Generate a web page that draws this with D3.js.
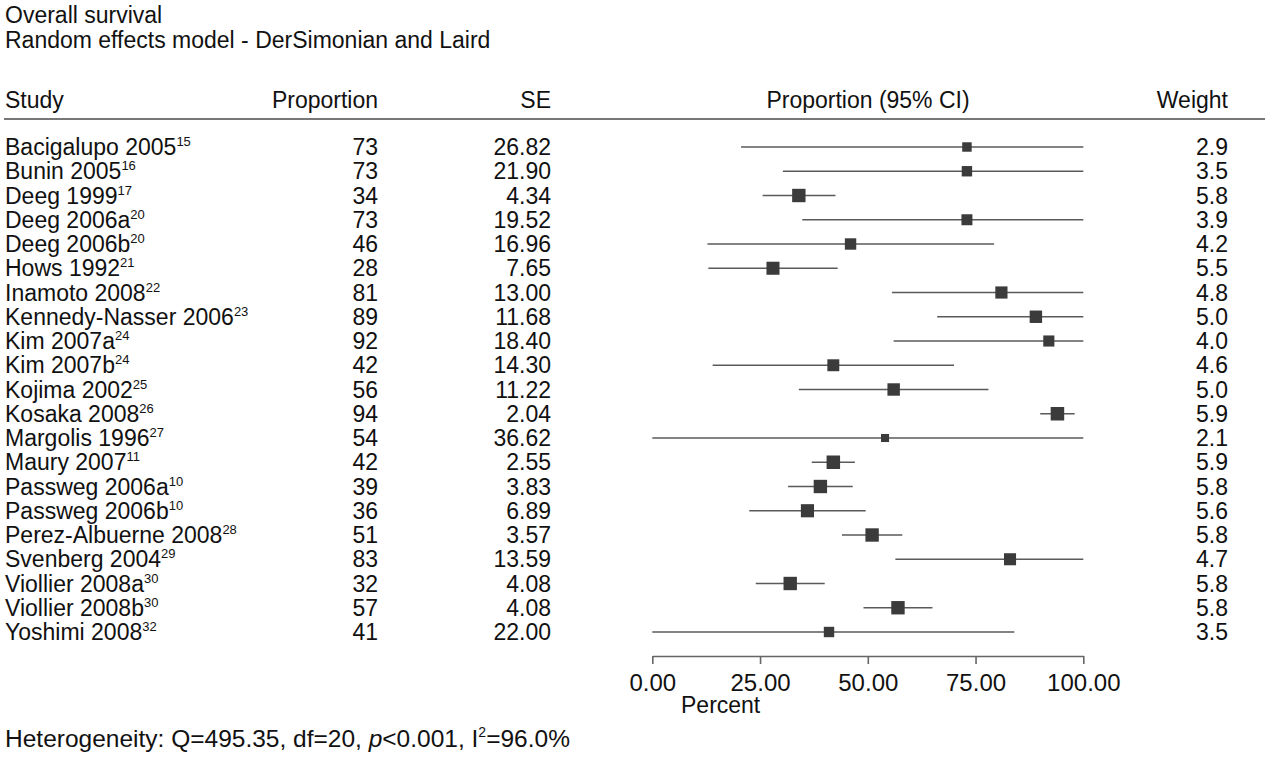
<!DOCTYPE html>
<html>
<head>
<meta charset="utf-8">
<script src="https://cdn.jsdelivr.net/npm/d3@7"></script>
<style>
    body { margin: 0; background: #fff; }
    text { font-family: "Liberation Sans", Arial, sans-serif; fill: #111; }
</style>
</head>
<body>
<div id="forest"></div>
<script>
var studies = ["Bacigalupo 2005", "Bunin 2005", "Deeg 1999", "Deeg 2006a", "Deeg 2006b", "Hows 1992",
    "Inamoto 2008", "Kennedy-Nasser 2006", "Kim 2007a", "Kim 2007b", "Kojima 2002", "Kosaka 2008",
    "Margolis 1996", "Maury 2007", "Passweg 2006a", "Passweg 2006b", "Perez-Albuerne 2008",
    "Svenberg 2004", "Viollier 2008a", "Viollier 2008b", "Yoshimi 2008"];
var refs = ["15", "16", "17", "20", "20", "21", "22", "23", "24", "24", "25", "26", "27", "11", "10", "10",
    "28", "29", "30", "30", "32"];
var proportion = [73, 73, 34, 73, 46, 28, 81, 89, 92, 42, 56, 94, 54, 42, 39, 36, 51, 83, 32, 57, 41];
var se = ["26.82", "21.90", "4.34", "19.52", "16.96", "7.65", "13.00", "11.68", "18.40", "14.30", "11.22",
    "2.04", "36.62", "2.55", "3.83", "6.89", "3.57", "13.59", "4.08", "4.08", "22.00"];
var ciLow = [20.6, 30.3, 25.6, 34.8, 12.8, 13.0, 55.6, 66.1, 56.0, 14.0, 34.0, 90.0, 0, 37.0, 31.5, 22.5,
    44.0, 56.4, 24.0, 49.0, 0];
var ciHigh = [100, 100, 42.5, 100, 79.3, 43.0, 100, 100, 100, 70.0, 78.0, 98.0, 100, 47.0, 46.5, 49.5,
    58.0, 100, 40.0, 65.0, 84.0];
var weight = ["2.9", "3.5", "5.8", "3.9", "4.2", "5.5", "4.8", "5.0", "4.0", "4.6", "5.0", "5.9", "2.1",
    "5.9", "5.8", "5.6", "5.8", "4.7", "5.8", "5.8", "3.5"];
var xTicks = [0, 25, 50, 75, 100];

var svgWidth = 1280;
var svgHeight = 763;
var fontSize = 23;

var svg = d3.select("#forest")
    .append("svg")
    .attr("width", svgWidth)
    .attr("height", svgHeight);

// scales
var x = d3.scaleLinear().domain([0, 100]).range([652.3, 1083.3]);
var y = d3.scalePoint().domain(studies).range([147, 632]);
var side = d3.scaleSqrt().domain([0, 5.9]).range([0, 13.5]);

// titles
svg.append("text").attr("x", 5).attr("y", 23).attr("font-size", fontSize).text("Overall survival");
svg.append("text").attr("x", 5).attr("y", 48).attr("font-size", fontSize)
    .text("Random effects model - DerSimonian and Laird");

// column headers
var headers = [
    { t: "Study", x: 5, a: "start" },
    { t: "Proportion", x: 378, a: "end" },
    { t: "SE", x: 551, a: "end" },
    { t: "Proportion (95% CI)", x: 868, a: "middle" },
    { t: "Weight", x: 1228, a: "end" }
];
svg.selectAll(".hdr")
    .data(headers)
    .enter()
    .append("text")
    .attr("class", "hdr")
    .attr("x", d => d.x)
    .attr("y", 108)
    .attr("text-anchor", d => d.a)
    .attr("font-size", fontSize)
    .text(d => d.t);

svg.append("line")
    .attr("x1", 4).attr("x2", 1265)
    .attr("y1", 119).attr("y2", 119)
    .attr("stroke", "#777")
    .attr("stroke-width", 2);

// rows
var rows = svg.selectAll(".row")
    .data(studies)
    .enter()
    .append("g")
    .attr("class", "row")
    .attr("transform", d => `translate(0, ${y(d)})`);

var names = rows.append("text")
    .attr("x", 5)
    .attr("y", 8)
    .attr("font-size", fontSize);
names.append("tspan").text(d => d);
names.append("tspan")
    .attr("font-size", 13)
    .attr("dy", -9)
    .text((d, i) => refs[i]);

rows.append("text")
    .attr("x", 378).attr("y", 8)
    .attr("text-anchor", "end")
    .attr("font-size", fontSize)
    .text((d, i) => proportion[i]);

rows.append("text")
    .attr("x", 551).attr("y", 8)
    .attr("text-anchor", "end")
    .attr("font-size", fontSize)
    .text((d, i) => se[i]);

rows.append("text")
    .attr("x", 1228).attr("y", 8)
    .attr("text-anchor", "end")
    .attr("font-size", fontSize)
    .text((d, i) => weight[i]);

// confidence intervals
rows.append("line")
    .attr("x1", (d, i) => x(ciLow[i]))
    .attr("x2", (d, i) => x(ciHigh[i]))
    .attr("y1", 0).attr("y2", 0)
    .attr("stroke", "#5a5a5a")
    .attr("stroke-width", 1.6);

rows.append("rect")
    .attr("x", (d, i) => x(proportion[i]) - side(+weight[i]) / 2)
    .attr("y", (d, i) => -side(+weight[i]) / 2)
    .attr("width", (d, i) => side(+weight[i]))
    .attr("height", (d, i) => side(+weight[i]))
    .attr("fill", "#3b3b3b");

// x axis
var axis = svg.append("g")
    .attr("transform", "translate(0, 656)")
    .call(d3.axisBottom(x)
        .tickValues(xTicks)
        .tickFormat(d3.format(".2f"))
        .tickSize(8)
        .tickSizeOuter(0));
axis.select(".domain").attr("stroke", "#666").attr("stroke-width", 1.6);
axis.selectAll(".tick line").attr("stroke", "#666").attr("stroke-width", 1.6);
axis.selectAll(".tick text")
    .attr("y", 18)
    .attr("font-size", fontSize + 1)
    .attr("font-family", "Liberation Sans, Arial, sans-serif")
    .attr("fill", "#111");

svg.append("text").attr("x", 681).attr("y", 713).attr("font-size", fontSize).text("Percent");

// heterogeneity
var het = svg.append("text").attr("x", 5).attr("y", 747).attr("font-size", 24.5);
het.append("tspan").text("Heterogeneity: Q=495.35, df=20, ");
het.append("tspan").attr("font-style", "italic").text("p");
het.append("tspan").text("<0.001, I");
het.append("tspan").attr("font-size", 14).attr("dy", -10).text("2");
het.append("tspan").attr("dy", 10).text("=96.0%");
</script>
</body>
</html>
